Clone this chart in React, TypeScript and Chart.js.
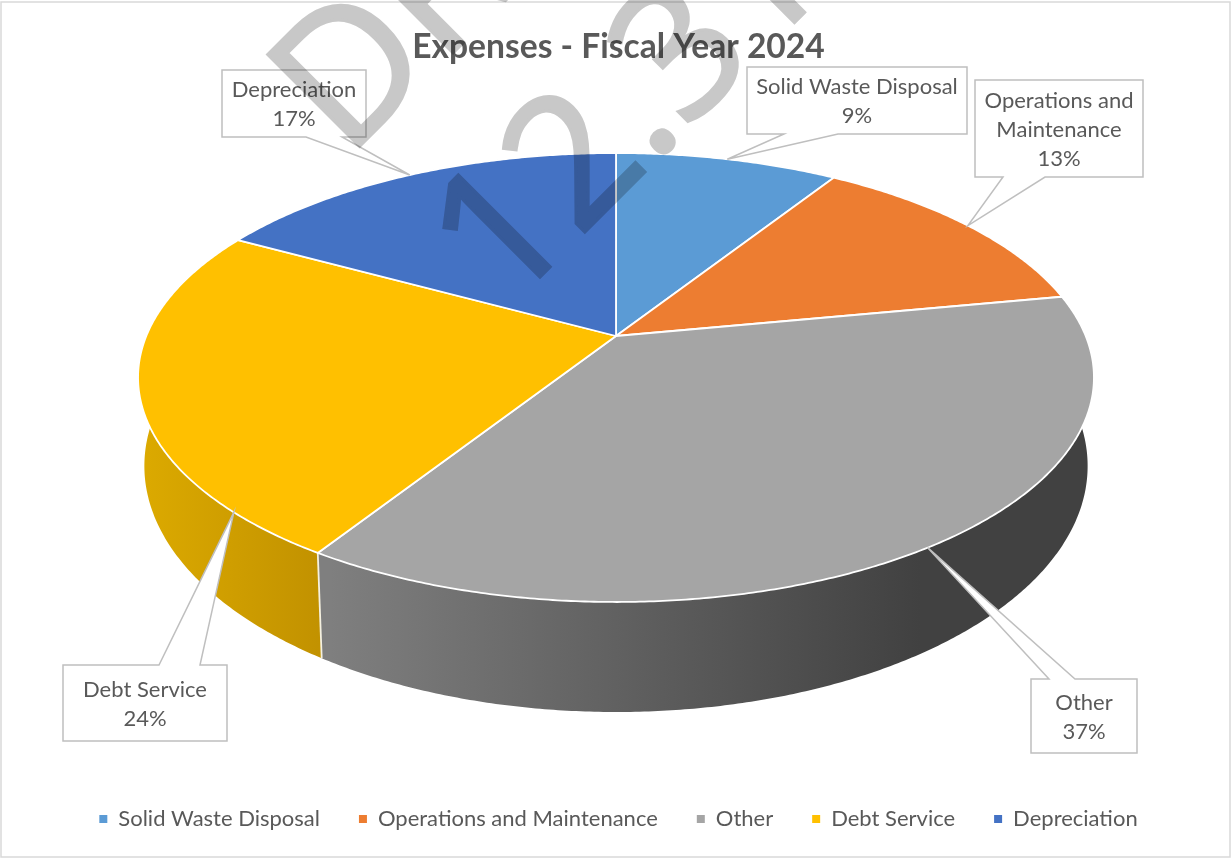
import React, { useEffect, useRef } from "react";
import { Chart, registerables } from "chart.js";

Chart.register(...registerables);

const TITLE = "Expenses - Fiscal Year 2024";
const categories = ["Solid Waste Disposal", "Operations and Maintenance", "Other", "Debt Service", "Depreciation"];
const percents = [9, 13, 37, 24, 17];
const sliceColors = ["#5b9bd5", "#ed7d31", "#a5a5a5", "#ffc000", "#4472c4"];
const wallColors = [
  ["#4a7fb0", "#4a7fb0"],
  ["#c0652a", "#c0652a"],
  ["#7f7f7f", "#414141"],
  ["#dcaa00", "#c09000"],
  ["#375d9f", "#375d9f"],
];
const wallSpans = [[0, 1], [0, 1], [330, 920], [140, 333], [0, 1]];
const WATERMARK_LINES = ["DRAFT", "12.31.24"];

const FONT = "Lato, 'Open Sans', sans-serif";
const TEXT = "#595959";

// Rim of the tilted disc: a perspective view of a circle, top face and bottom face.
const CX = 616;
const K = -0.1849;
const TOP_FACE = { cy: 336, a: 216.8, b: 469.7 };
const BOTTOM_FACE = { cy: 420.5, a: 237.6, b: 463.5 };

type Face = typeof TOP_FACE;
const project = (angle: number, face: Face) => {
  const d = 1 + K * Math.sin(angle);
  return { x: CX + (face.b * Math.cos(angle)) / d, y: face.cy + (face.a * Math.sin(angle)) / d };
};

const rimPoints = (start: number, end: number, face: Face) => {
  const steps = Math.max(2, Math.ceil((end - start) / 0.008));
  const pts = [];
  for (let i = 0; i <= steps; i++) pts.push(project(start + ((end - start) * i) / steps, face));
  return pts;
};

// Callout boxes: rectangle, the edge its pointer leaves from, the pointer's base, and where on the slice it lands.
const calloutBoxes = [
  { x: 747, y: 67, w: 220, h: 67, side: "bottom", base: [784, 838], tipAt: 0.5 },
  { x: 975, y: 80, w: 168, h: 97, side: "bottom", base: [1003, 1045], tipAt: 0.5 },
  { x: 1031, y: 679, w: 106, h: 74, side: "top", base: [1049, 1075], tipAt: 0.5 },
  { x: 63, y: 665, w: 164, h: 76, side: "top", base: [159, 200], tipAt: 0.146 },
  { x: 222, y: 70, w: 144, h: 67, side: "bottom", base: [306, 342], tipAt: 0.5 },
];

const wrapLine = (ctx: CanvasRenderingContext2D, text: string, maxWidth: number) => {
  const lines: string[] = [];
  let line = "";
  for (const word of text.split(" ")) {
    const next = line ? line + " " + word : word;
    if (line && ctx.measureText(next).width > maxWidth) {
      lines.push(line);
      line = word;
    } else line = next;
  }
  lines.push(line);
  return lines;
};

const disc3d = {
  id: "disc3d",
  beforeDraw(chart: any) {
    const { ctx, width, height } = chart;
    ctx.save();
    ctx.fillStyle = "#ffffff";
    ctx.fillRect(0, 0, width, height);
    ctx.strokeStyle = "#d9d9d9";
    ctx.lineWidth = 1.5;
    ctx.strokeRect(1, 2, width - 2, height - 3);
    ctx.restore();
  },
  // The arcs keep the angles the doughnut controller gave them; only their outline is re-projected.
  beforeDatasetDraw(chart: any, args: any) {
    const { ctx } = chart;
    const arcs = args.meta.data;
    ctx.save();
    arcs.forEach((arc: any, i: number) => {
      const top = rimPoints(arc.startAngle, arc.endAngle, TOP_FACE);
      const bottom = rimPoints(arc.startAngle, arc.endAngle, BOTTOM_FACE).reverse();
      const g = ctx.createLinearGradient(wallSpans[i][0], 0, wallSpans[i][1], 0);
      g.addColorStop(0, wallColors[i][0]);
      g.addColorStop(1, wallColors[i][1]);
      ctx.beginPath();
      [...top, ...bottom].forEach((p, j) => (j ? ctx.lineTo(p.x, p.y) : ctx.moveTo(p.x, p.y)));
      ctx.closePath();
      ctx.fillStyle = g;
      ctx.fill();
    });
    arcs.forEach((arc: any) => {
      if (Math.sin(arc.startAngle) <= 0.3) return;
      const a = project(arc.startAngle, TOP_FACE);
      const b = project(arc.startAngle, BOTTOM_FACE);
      ctx.beginPath();
      ctx.moveTo(a.x, a.y);
      ctx.lineTo(b.x, b.y);
      ctx.strokeStyle = "#f4f0e0";
      ctx.lineWidth = 1.8;
      ctx.stroke();
    });
    arcs.forEach((arc: any, i: number) => {
      ctx.beginPath();
      ctx.moveTo(CX, TOP_FACE.cy);
      rimPoints(arc.startAngle, arc.endAngle, TOP_FACE).forEach((p) => ctx.lineTo(p.x, p.y));
      ctx.closePath();
      ctx.fillStyle = sliceColors[i];
      ctx.fill();
      ctx.strokeStyle = "#ffffff";
      ctx.lineWidth = 1.8;
      ctx.lineJoin = "round";
      ctx.stroke();
    });
    ctx.restore();
    return false;
  },
  afterDraw(chart: any) {
    const { ctx, width, height } = chart;
    const arcs = chart.getDatasetMeta(0).data;
    ctx.save();
    calloutBoxes.forEach((box, i) => {
      const arc = arcs[i];
      const tip = project(arc.startAngle + (arc.endAngle - arc.startAngle) * box.tipAt, TOP_FACE);
      const { x, y, w, h, base } = box;
      ctx.beginPath();
      ctx.moveTo(x, y);
      if (box.side === "top") {
        ctx.lineTo(base[0], y);
        ctx.lineTo(tip.x, tip.y);
        ctx.lineTo(base[1], y);
      }
      ctx.lineTo(x + w, y);
      ctx.lineTo(x + w, y + h);
      if (box.side === "bottom") {
        ctx.lineTo(base[1], y + h);
        ctx.lineTo(tip.x, tip.y);
        ctx.lineTo(base[0], y + h);
      }
      ctx.lineTo(x, y + h);
      ctx.closePath();
      ctx.fillStyle = "#ffffff";
      ctx.fill();
      ctx.strokeStyle = "#bfbfbf";
      ctx.lineWidth = 1.5;
      ctx.lineJoin = "miter";
      ctx.stroke();

      ctx.font = `22px ${FONT}`;
      ctx.fillStyle = TEXT;
      ctx.textAlign = "center";
      ctx.textBaseline = "middle";
      const lines = [...wrapLine(ctx, categories[i], w - 10), `${percents[i]}%`];
      const lineHeight = 29;
      const first = y + h / 2 - ((lines.length - 1) * lineHeight) / 2 + 1;
      lines.forEach((t, j) => ctx.fillText(t, x + w / 2, first + j * lineHeight));
    });
    ctx.restore();

    // Diagonal stamp: fill and outline are composed first so they darken the chart only once.
    const layer = document.createElement("canvas");
    layer.width = width;
    layer.height = height;
    const stamp = layer.getContext("2d") as CanvasRenderingContext2D;
    stamp.fillStyle = "#c8c8c8";
    stamp.strokeStyle = "#c8c8c8";
    stamp.lineWidth = 3;
    stamp.lineJoin = "miter";
    stamp.font = "182px 'Open Sans', sans-serif";
    stamp.textAlign = "left";
    stamp.textBaseline = "alphabetic";
    const origins = [[347, 159], [505, 312]];
    WATERMARK_LINES.forEach((t, i) => {
      stamp.save();
      stamp.translate(origins[i][0], origins[i][1]);
      stamp.rotate(-Math.PI / 4);
      stamp.fillText(t, 0, 0);
      stamp.strokeText(t, 0, 0);
      stamp.restore();
    });
    ctx.save();
    ctx.globalCompositeOperation = "multiply";
    ctx.drawImage(layer, 0, 0);
    ctx.restore();
  },
};

export default function App() {
  const ref = useRef<HTMLCanvasElement>(null);
  useEffect(() => {
    const chart = new Chart(ref.current as HTMLCanvasElement, {
      type: "pie",
      data: {
        labels: categories,
        datasets: [{ data: percents, backgroundColor: sliceColors, borderWidth: 0 }],
      },
      options: {
        responsive: false,
        animation: false,
        events: [],
        layout: { padding: { bottom: 18, left: 6 } },
        plugins: {
          tooltip: { enabled: false },
          title: {
            display: true,
            text: TITLE,
            color: TEXT,
            font: { family: FONT, size: 33.6, weight: "bold" },
            padding: { top: 27.5, bottom: 10 },
          },
          legend: {
            position: "bottom",
            labels: {
              color: TEXT,
              font: { family: FONT, size: 22 },
              usePointStyle: true,
              pointStyle: "rect",
              boxHeight: 8,
              pointStyleWidth: 8,
              padding: 39,
            },
          },
        },
      },
      plugins: [disc3d],
    } as any);
    return () => chart.destroy();
  }, []);
  return (
    <div style={{ position: "absolute", left: 0, top: 0, width: 1231, height: 858 }}>
      <canvas ref={ref} width={1231} height={858} style={{ display: "block" }} />
    </div>
  );
}
